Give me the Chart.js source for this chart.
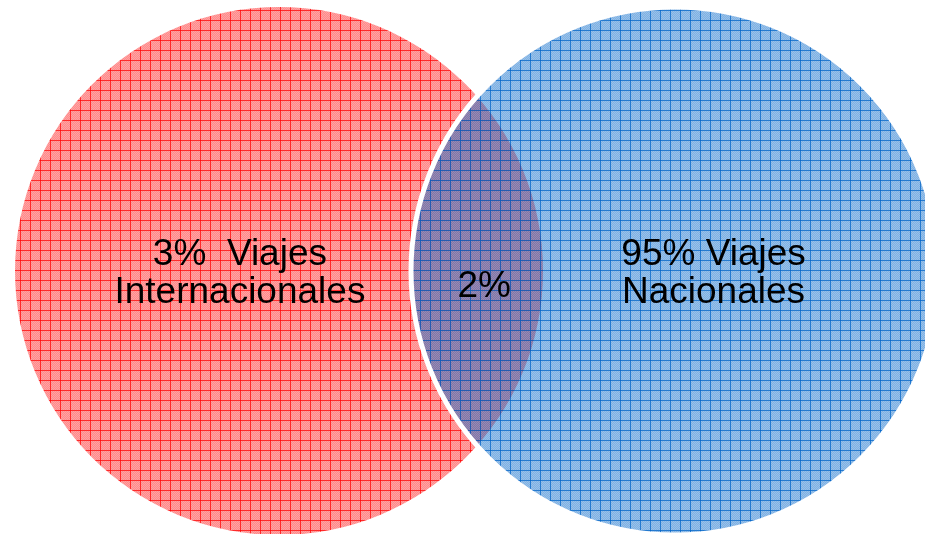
<!DOCTYPE html>
<html>
<head>
<meta charset="utf-8">
<script src="https://cdn.jsdelivr.net/npm/chart.js@4/dist/chart.umd.min.js"></script>
<style>
    html, body { margin: 0; padding: 0; background: #ffffff; }
    #wrap { width: 925px; height: 534px; position: relative; }
</style>
</head>
<body>
<div id="wrap"><canvas id="vennChart"></canvas></div>
<script>
// Conjuntos del diagrama
const setLabels = [['3%  Viajes', 'Internacionales'], ['95% Viajes', 'Nacionales']];
const setShares = [3, 95];
const overlapLabel = ['2%'];
const overlapShare = [2];
// Centros y radio de cada circulo en unidades del eje
const centerX = [0, 1.5];
const centerY = [0, 0];
const radius = [1, 1];

// Relleno de cuadricula (como el patron de Office)
function gridPattern(rgb, fillA, fillB, lineA) {
    const size = 10;
    const c = document.createElement('canvas');
    c.width = size;
    c.height = size;
    const g = c.getContext('2d');
    for (let y = 0; y < size; y++) {
        for (let x = 0; x < size; x++) {
            const a = (x + y) % 2 === 0 ? fillA : fillB;
            g.fillStyle = `rgba(${rgb}, ${a})`;
            g.fillRect(x, y, 1, 1);
        }
    }
    g.fillStyle = `rgba(${rgb}, ${lineA})`;
    g.fillRect(0, 0, size, 1);
    g.fillRect(0, 0, 1, size);
    return g.createPattern(c, 'repeat');
}

const ctx = document.getElementById('vennChart').getContext('2d');
const redFill = gridPattern('255, 0, 0', 0.36, 0.46, 0.72);
const blueFill = gridPattern('0, 100, 200', 0.40, 0.50, 0.74);

// radio en pixeles a partir de la escala x
function pixelRadius(context) {
    const s = context.chart.scales.x;
    const r = radius[context.datasetIndex];
    return Math.abs(s.getPixelForValue(r) - s.getPixelForValue(0));
}

// Textos de los conjuntos
const labelsPlugin = {
    id: 'vennLabels',
    afterDatasetsDraw(chart) {
        const { ctx, scales } = chart;
        const px = v => scales.x.getPixelForValue(v);
        const py = v => scales.y.getPixelForValue(v);
        ctx.save();
        ctx.fillStyle = '#000000';
        ctx.font = '37px "Liberation Sans", Arial, sans-serif';
        ctx.textAlign = 'center';
        ctx.textBaseline = 'alphabetic';
        const offsets = [-0.148, 0.146];
        setLabels.forEach((lines, i) => {
            const x = px(centerX[i] + offsets[i]);
            const y = py(centerY[i]);
            ctx.fillText(lines[0], x, y - 6);
            ctx.fillText(lines[1], x, y + 32);
        });
        const midX = (centerX[0] + centerX[1]) / 2;
        ctx.fillText(overlapLabel[0], px(midX + 0.027), py(0) + 26);
        ctx.restore();
    }
};

new Chart(ctx, {
    type: 'scatter',
    data: {
        datasets: [
            {
                label: setLabels[0].join(' '),
                data: [{ x: centerX[0], y: centerY[0], share: setShares[0] }],
                pointBackgroundColor: redFill,
                pointBorderColor: 'rgba(0,0,0,0)',
                pointBorderWidth: 0,
                pointRadius: pixelRadius,
                order: 2,
                clip: false
            },
            {
                label: setLabels[1].join(' '),
                data: [{ x: centerX[1], y: centerY[1], share: setShares[1] }],
                pointBackgroundColor: blueFill,
                pointBorderColor: '#ffffff',
                pointBorderWidth: 5,
                pointRadius: pixelRadius,
                order: 1,
                clip: false
            }
        ]
    },
    options: {
        responsive: true,
        maintainAspectRatio: false,
        animation: false,
        events: [],
        layout: { autoPadding: false, padding: 0 },
        plugins: {
            legend: { display: false },
            tooltip: { enabled: false }
        },
        scales: {
            x: { type: 'linear', display: false, min: -279 / 264, max: 646 / 264 },
            y: { type: 'linear', display: false, min: -263 / 264, max: 271 / 264 }
        }
    },
    plugins: [labelsPlugin]
});
</script>
</body>
</html>
